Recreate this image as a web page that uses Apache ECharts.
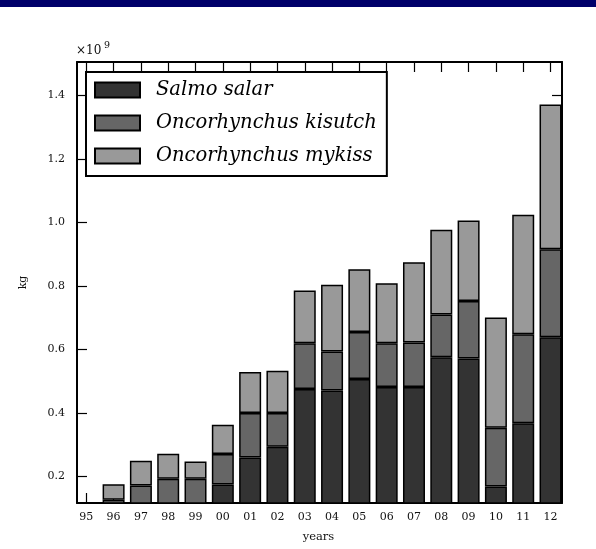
<!DOCTYPE html>
<html>
<head>
<meta charset="utf-8">
<style>
  html, body { margin: 0; padding: 0; background: #fff; }
  #chart { width: 596px; height: 549px; }
</style>
<script src="https://cdn.jsdelivr.net/npm/echarts@6/dist/echarts.min.js"></script>
</head>
<body>
<div id="chart"></div>
<script>
// Aquaculture harvest per species, in units of 10^9 kg
const categories = ['95', '96', '97', '98', '99', '00', '01', '02', '03',
                    '04', '05', '06', '07', '08', '09', '10', '11', '12'];
const salmoSalar = [0.020, 0.105, 0.095, 0.100, 0.100, 0.175, 0.260, 0.294, 0.476,
                    0.471, 0.507, 0.482, 0.482, 0.576, 0.572, 0.169, 0.368, 0.639];
const oncorhynchusKisutch = [0.040, 0.022, 0.077, 0.093, 0.093, 0.096, 0.140, 0.106, 0.144,
                             0.123, 0.148, 0.138, 0.140, 0.134, 0.181, 0.185, 0.280, 0.277];
const oncorhynchusMykiss = [0.040, 0.049, 0.078, 0.079, 0.055, 0.092, 0.129, 0.133, 0.166,
                            0.210, 0.198, 0.189, 0.253, 0.267, 0.253, 0.347, 0.376, 0.455];
const yTicks = [0.2, 0.4, 0.6, 0.8, 1.0, 1.2, 1.4];

const seriesDefs = [
  { name: 'Salmo salar', values: salmoSalar, color: '#333333' },
  { name: 'Oncorhynchus kisutch', values: oncorhynchusKisutch, color: '#666666' },
  { name: 'Oncorhynchus mykiss', values: oncorhynchusMykiss, color: '#999999' }
];

// Frame box (ticks on all four sides) and the slightly wider band grid the bars live in.
const FRAME = { left: 77, right: 34, top: 62, bottom: 46 };
const BAND = 27.3;                    // px per year
const X_MIN = -0.34, X_MAX = 17.42;   // frame extent in category units
const BARS = {
  left: FRAME.left - (0.5 + X_MIN) * BAND,
  right: FRAME.right - (categories.length - 0.5 - X_MAX) * BAND,
  top: FRAME.top,
  bottom: FRAME.bottom
};
const Y_MIN = 0.117, Y_MAX = 1.505;
const FONT = 'DejaVu Serif';
const xIdx = categories.map((c, i) => i);

const tickCommon = { show: true, inside: true, length: 10, lineStyle: { color: '#000', width: 1.2 } };
const lineCommon = { show: true, onZero: false, lineStyle: { color: '#000', width: 2 } };

const chart = echarts.init(document.getElementById('chart'), null, { renderer: 'canvas' });

chart.setOption({
  animation: false,
  backgroundColor: '#fff',
  grid: [
    Object.assign({ containLabel: false, outerBoundsMode: 'none' }, BARS),
    Object.assign({ containLabel: false, outerBoundsMode: 'none' }, FRAME)
  ],
  legend: {
    orient: 'vertical',
    left: 86,
    top: 72,
    padding: [8, 10, 10, 8],
    itemWidth: 45,
    itemHeight: 15,
    itemGap: 13,
    icon: 'rect',
    backgroundColor: '#fff',
    borderColor: '#000',
    borderWidth: 2,
    itemStyle: { borderColor: '#000', borderWidth: 2 },
    textStyle: {
      fontFamily: FONT,
      fontStyle: 'italic',
      fontSize: 19.5,
      color: '#000',
      lineHeight: 15,
      padding: [0, 0, 0, 11]
    },
    data: seriesDefs.map(s => s.name)
  },
  xAxis: [
    {
      gridIndex: 0,
      type: 'category',
      data: categories,
      boundaryGap: true,
      name: 'years',
      nameLocation: 'middle',
      nameGap: 28,
      nameTextStyle: { fontFamily: FONT, fontSize: 11.5, color: '#111' },
      axisLine: { show: false },
      axisTick: { show: false },
      axisLabel: { fontFamily: FONT, fontSize: 11, color: '#111', margin: 9, interval: 0 },
      splitLine: { show: false }
    },
    {
      gridIndex: 1,
      type: 'value',
      position: 'bottom',
      min: X_MIN,
      max: X_MAX,
      axisLine: lineCommon,
      axisTick: Object.assign({ customValues: xIdx }, tickCommon),
      axisLabel: { show: false },
      splitLine: { show: false }
    },
    {
      gridIndex: 1,
      type: 'value',
      position: 'top',
      min: X_MIN,
      max: X_MAX,
      axisLine: lineCommon,
      axisTick: Object.assign({ customValues: xIdx }, tickCommon),
      axisLabel: { show: false },
      splitLine: { show: false }
    }
  ],
  yAxis: [
    {
      gridIndex: 0,
      type: 'value',
      min: Y_MIN,
      max: Y_MAX,
      show: false,
      splitLine: { show: false }
    },
    {
      gridIndex: 1,
      type: 'value',
      position: 'left',
      min: Y_MIN,
      max: Y_MAX,
      name: 'kg',
      nameLocation: 'middle',
      nameRotate: 90,
      nameGap: 48,
      nameTextStyle: { fontFamily: FONT, fontSize: 11, color: '#111' },
      axisLine: lineCommon,
      axisTick: Object.assign({ customValues: yTicks }, tickCommon),
      axisLabel: {
        customValues: yTicks,
        formatter: v => v.toFixed(1),
        fontFamily: FONT,
        fontSize: 11,
        color: '#111',
        margin: 12
      },
      splitLine: { show: false }
    },
    {
      gridIndex: 1,
      type: 'value',
      position: 'right',
      min: Y_MIN,
      max: Y_MAX,
      axisLine: lineCommon,
      axisTick: Object.assign({ customValues: yTicks }, tickCommon),
      axisLabel: { show: false },
      splitLine: { show: false }
    }
  ],
  graphic: [
    { type: 'rect', left: 0, top: 0, shape: { width: 596, height: 7 }, style: { fill: '#00006a' }, silent: true },
    { type: 'text', left: 76, top: 45, style: { text: '×10', fontFamily: FONT, fontSize: 12, fill: '#111' }, silent: true },
    { type: 'text', left: 104, top: 41, style: { text: '9', fontFamily: FONT, fontSize: 9.5, fill: '#111' }, silent: true }
  ],
  series: seriesDefs.map(s => ({
    name: s.name,
    type: 'bar',
    stack: 'harvest',
    xAxisIndex: 0,
    yAxisIndex: 0,
    barWidth: 22,
    silent: true,
    itemStyle: { color: s.color, borderColor: '#000', borderWidth: 1.5 },
    data: s.values
  }))
});
</script>
</body>
</html>
